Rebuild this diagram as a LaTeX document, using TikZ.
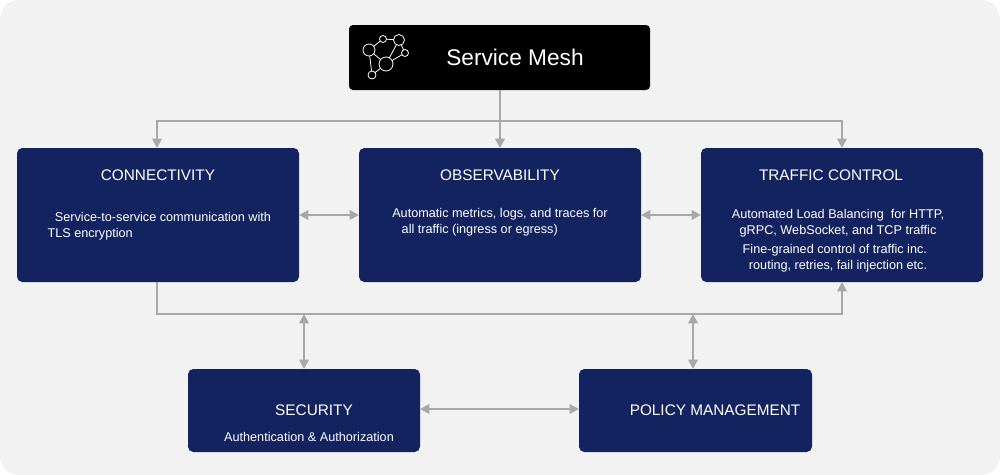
\documentclass[tikz,border=0pt]{standalone}
\usepackage{fontspec}
\setmainfont{Liberation Sans}
\usetikzlibrary{arrows.meta}
\definecolor{navy}{HTML}{13235F}
\definecolor{bg}{HTML}{F2F2F2}
\definecolor{ln}{HTML}{A8A8A8}
\begin{document}
\begin{tikzpicture}[x=0.75pt,y=-0.75pt,
  card/.style={fill=navy,rounded corners=4pt,draw=none},
  conn/.style={draw=ln,line width=2.2pt},
  arr/.style={conn,-{Triangle[length=7pt,width=7pt]}},
  darr/.style={conn,{Triangle[length=7pt,width=7pt]}-{Triangle[length=7pt,width=7pt]}},
  hd/.style={text=white,font=\fontsize{11.5}{13}\selectfont},
  bd/.style={text=white,font=\fontsize{9.5}{13}\selectfont,align=center}]
\useasboundingbox (0,0) rectangle (1000,475);
\fill[bg,rounded corners=14pt] (0,0) rectangle (1000,475);
% boxes
\fill[black,rounded corners=3pt] (349,25) rectangle (650,90);
\node[text=white,font=\fontsize{17}{20}\selectfont] (sm) at (515,57) {Service Mesh};
\coordinate (smb) at (500,90);
\fill[card] (17,148) rectangle (299,282);
\fill[card] (359,148) rectangle (641,282);
\fill[card] (701,148) rectangle (983,282);
\fill[card] (188,369) rectangle (420,452);
\fill[card] (579,369) rectangle (812,452);
\node[hd] (c) at (158,175) {CONNECTIVITY};
\node[bd] (ct) at (163,226) {Service-to-service communication with\\[-1pt]\hspace*{-11.5em}TLS encryption};
\node[hd] (o) at (500,175) {OBSERVABILITY};
\node[bd] (ot) at (500,222) {Automatic metrics, logs, and traces for\\[-1pt]\hspace*{-3.2em}all traffic (ingress or egress)};
\node[hd] (t) at (831,175) {TRAFFIC CONTROL};
\node[bd] (tt) at (838,241) {Automated Load Balancing~ for HTTP,\\[-1pt]gRPC, WebSocket, and TCP traffic\\[1pt]\hspace*{-0.5em}Fine-grained control of traffic inc.\\[-1pt]routing, retries, fail injection etc.};
\node[hd] (s) at (314,410) {SECURITY};
\node[bd] (st) at (309,437) {Authentication \& Authorization};
\node[hd] (p) at (715,410) {POLICY MANAGEMENT};
% icon
\begin{scope}[draw=white,line width=0.6pt]
\coordinate (i1) at (369,50); \coordinate (i2) at (383,39); \coordinate (i3) at (399,40);
\coordinate (i4) at (386,64); \coordinate (i5) at (405,53); \coordinate (i6) at (372,75);
\draw (i1)--(i2)--(i3)--(i5)--(i4)--(i1) (i3)--(i4) (i4)--(i6)--(i1);
\foreach \p/\r in {i1/6,i2/3.5,i3/5.5,i4/7,i5/3.5,i6/4}{\fill[black] (\p) circle (\r*0.75pt); \draw (\p) circle (\r*0.75pt);}
\end{scope}
% connectors
\draw[arr] (smb) -- (500,148);
\draw[conn] (157,121) -- (842,121);
\draw[arr] (157,120) -- (157,148);
\draw[arr] (842,120) -- (842,148);
\draw[arr] (157,282) -- (157,314) -- (842,314) -- (842,282);
\draw[darr] (304,314) -- (304,369);
\draw[darr] (693,314) -- (693,369);
\draw[darr] (299,215) -- (359,215);
\draw[darr] (641,215) -- (701,215);
\draw[darr] (420,409) -- (579,409);
\end{tikzpicture}
\end{document}
